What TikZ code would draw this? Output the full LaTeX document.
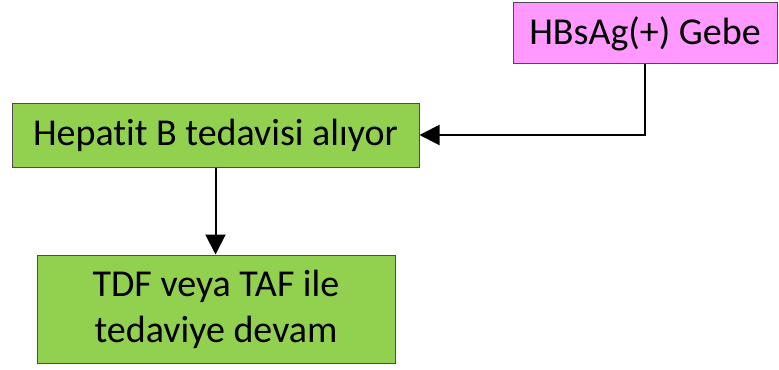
\documentclass[tikz,border=0pt]{standalone}
\usepackage{fontspec}
\setmainfont[Ligatures=CommonOff]{Carlito}
\usepackage{xcolor}
\usetikzlibrary{arrows.meta}
\definecolor{boxgreen}{HTML}{92D050}
\definecolor{boxpink}{HTML}{FF99FF}
\tikzset{
  stepbox/.style={draw=black!70, line width=0.5pt, inner sep=0pt,
    font=\fontsize{19}{23}\selectfont, align=center},
  flow/.style={line width=1pt, -{Triangle[width=10pt,length=10pt]}}
}

\begin{document}
\begin{tikzpicture}[x=0.5pt,y=-0.5pt]
  \useasboundingbox (0,0) rectangle (779,369);
  \node (gebe) [stepbox, fill=boxpink, minimum width=132pt, minimum height=30.5pt]
    at (645,33.5) {HBsAg(+) Gebe};
  \node (tedavi) [stepbox, fill=boxgreen, minimum width=203.5pt, minimum height=32pt]
    at (215.5,135) {Hepatit B tedavisi alıyor};
  \node (devam) [stepbox, fill=boxgreen, minimum width=179pt, minimum height=54pt]
    at (216,309) {TDF veya TAF ile\\tedaviye devam};

  \draw[flow] (gebe.south) |- (tedavi.east);
  \draw[flow] (tedavi.south) -- (tedavi.south |- devam.north);
\end{tikzpicture}
\end{document}
